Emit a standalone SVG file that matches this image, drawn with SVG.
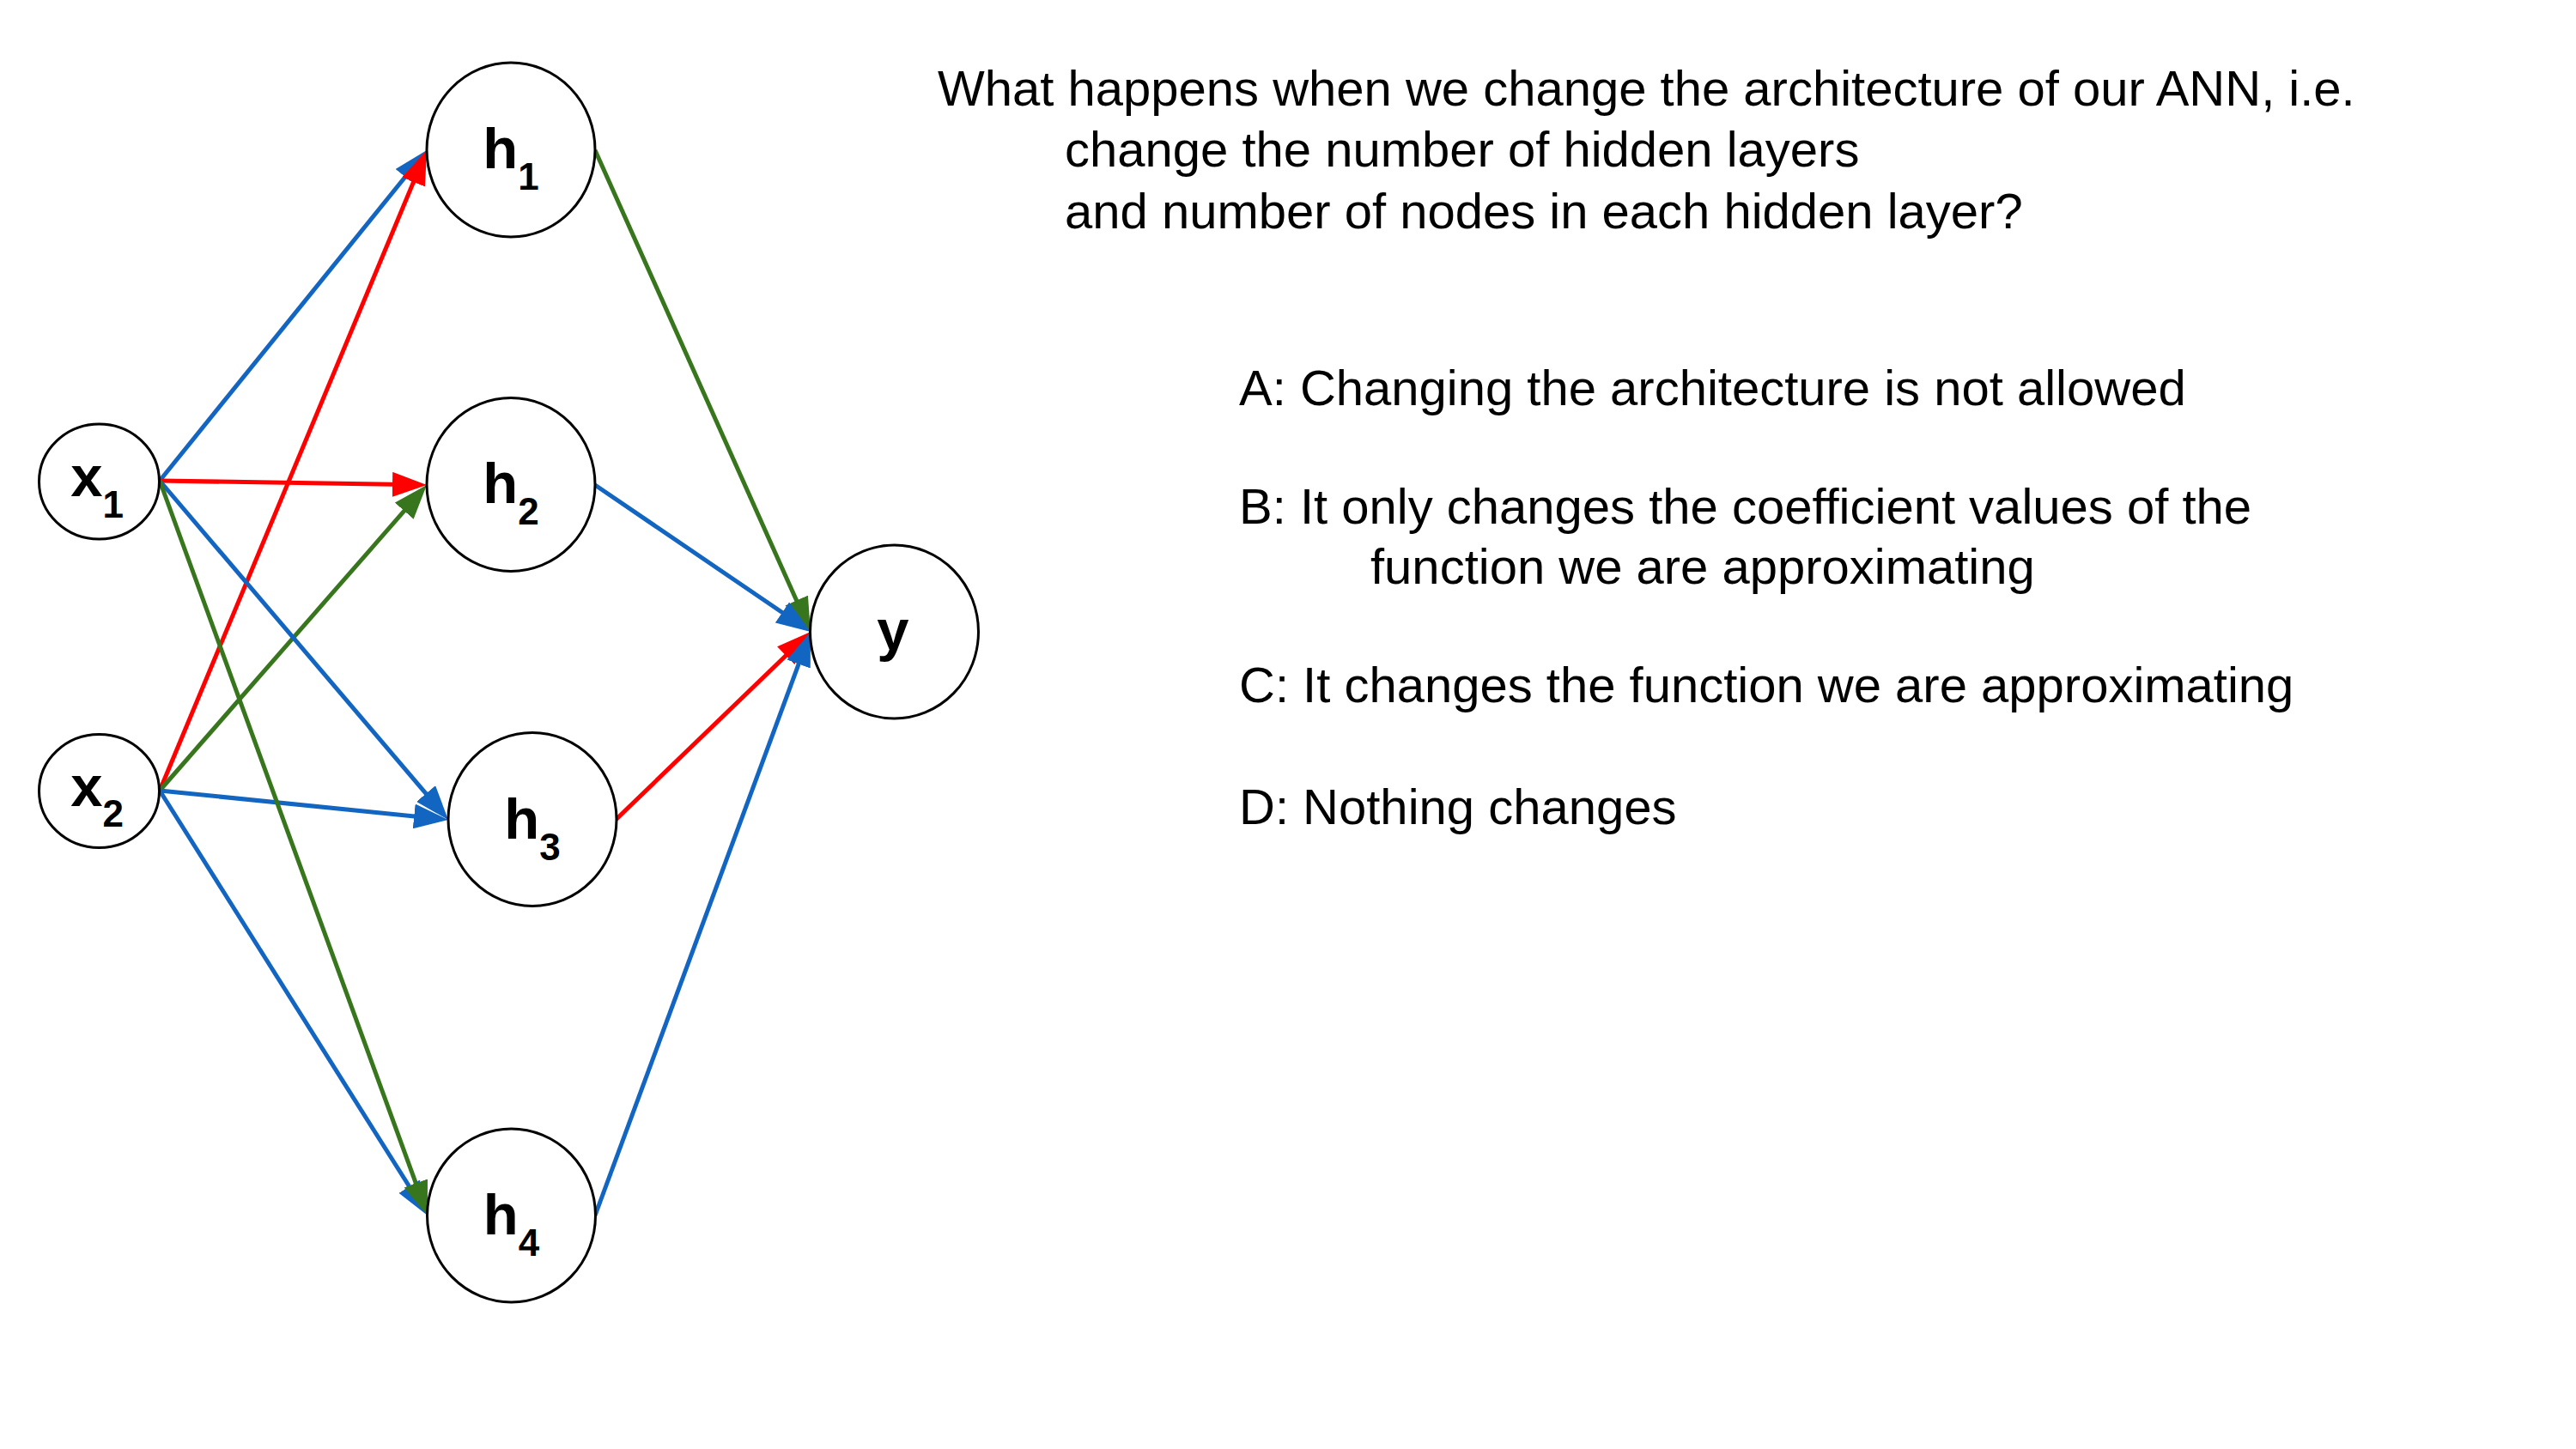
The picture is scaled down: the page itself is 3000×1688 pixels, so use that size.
<svg xmlns="http://www.w3.org/2000/svg" width="3000" height="1688" viewBox="0 0 3000 1688">
  <defs>
    <style>
      .node ellipse { fill: #ffffff; stroke: #000000; stroke-width: 3; }
      .lbl { font-family: "Liberation Sans", Arial, sans-serif; font-weight: bold; font-size: 67px; fill: #000000; }
      .sub { font-size: 44px; }
      .edge { fill: none; stroke-width: 5; }
      .blue { stroke: #1265c1; }
      .red { stroke: #ff0000; }
      .green { stroke: #38761d; }
      .txt { font-family: "Liberation Sans", Arial, sans-serif; font-size: 58px; fill: #000000; }
    </style>
    <marker id="ah-blue" markerUnits="userSpaceOnUse" markerWidth="40" markerHeight="29" refX="32" refY="14.5" orient="auto">
      <path d="M0,0 L40,14.5 L0,29 Z" fill="#1265c1"/>
    </marker>
    <marker id="ah-red" markerUnits="userSpaceOnUse" markerWidth="40" markerHeight="29" refX="32" refY="14.5" orient="auto">
      <path d="M0,0 L40,14.5 L0,29 Z" fill="#ff0000"/>
    </marker>
    <marker id="ah-green" markerUnits="userSpaceOnUse" markerWidth="40" markerHeight="29" refX="32" refY="14.5" orient="auto">
      <path d="M0,0 L40,14.5 L0,29 Z" fill="#38761d"/>
    </marker>
  </defs>

  <rect width="3000" height="1688" fill="#ffffff"/>

  <!-- weighted connections between layers -->
  <g id="connectors">
    <line id="e-x1-h1" class="edge blue" x1="186" y1="560" x2="491.97" y2="181.22" marker-end="url(#ah-blue)"/>
    <line id="e-x2-h1" class="edge red" x1="186" y1="921" x2="493.92" y2="182.38" marker-end="url(#ah-red)"/>
    <line id="e-x1-h2" class="edge red" x1="186" y1="560" x2="489.0" y2="564.87" marker-end="url(#ah-red)"/>
    <line id="e-x2-h2" class="edge green" x1="186" y1="921" x2="491.74" y2="571.02" marker-end="url(#ah-green)"/>
    <line id="e-x1-h3" class="edge blue" x1="186" y1="560" x2="516.82" y2="948.91" marker-end="url(#ah-blue)"/>
    <line id="e-x2-h3" class="edge blue" x1="186" y1="921" x2="514.04" y2="954.19" marker-end="url(#ah-blue)"/>
    <line id="e-x2-h4" class="edge blue" x1="186" y1="921" x2="493.73" y2="1409.23" marker-end="url(#ah-blue)"/>
    <line id="e-x1-h4" class="edge green" x1="186" y1="560" x2="495.26" y2="1408.48" marker-end="url(#ah-green)"/>
    <line id="e-h1-y" class="edge green" x1="693" y1="175" x2="940.73" y2="728.7" marker-end="url(#ah-green)"/>
    <line id="e-h2-y" class="edge blue" x1="693" y1="565" x2="937.39" y2="731.5" marker-end="url(#ah-blue)"/>
    <line id="e-h3-y" class="edge red" x1="717" y1="955" x2="938.24" y2="741.55" marker-end="url(#ah-red)"/>
    <line id="e-h4-y" class="edge blue" x1="693" y1="1416" x2="941.23" y2="743.51" marker-end="url(#ah-blue)"/>
  </g>

  <!-- input layer -->
  <g id="x1" class="node">
    <ellipse cx="115.5" cy="561" rx="70" ry="67"/>
    <text class="lbl" x="113" y="578" text-anchor="middle">x<tspan class="sub" dy="25">1</tspan></text>
  </g>
  <g id="x2" class="node">
    <ellipse cx="115.5" cy="921.5" rx="70" ry="66"/>
    <text class="lbl" x="113" y="938.5" text-anchor="middle">x<tspan class="sub" dy="24">2</tspan></text>
  </g>

  <!-- hidden layer -->
  <g id="h1" class="node">
    <ellipse cx="595" cy="174.5" rx="98" ry="101.5"/>
    <text class="lbl" x="595" y="196" text-anchor="middle">h<tspan class="sub" dy="25">1</tspan></text>
  </g>
  <g id="h2" class="node">
    <ellipse cx="595" cy="564.5" rx="98" ry="101"/>
    <text class="lbl" x="595" y="586" text-anchor="middle">h<tspan class="sub" dy="25">2</tspan></text>
  </g>
  <g id="h3" class="node">
    <ellipse cx="620" cy="954.5" rx="98" ry="101"/>
    <text class="lbl" x="620" y="977" text-anchor="middle">h<tspan class="sub" dy="25">3</tspan></text>
  </g>
  <g id="h4" class="node">
    <ellipse cx="595.5" cy="1416" rx="98" ry="101"/>
    <text class="lbl" x="595.5" y="1438" text-anchor="middle">h<tspan class="sub" dy="25">4</tspan></text>
  </g>

  <!-- output layer -->
  <g id="y" class="node">
    <ellipse cx="1041.5" cy="736" rx="98" ry="101"/>
    <text class="lbl" x="1040" y="757" text-anchor="middle">y</text>
  </g>

  <!-- question -->
  <g id="question">
    <text class="txt" x="1092" y="123">What happens when we change the architecture of our ANN, i.e.</text>
    <text class="txt" x="1240" y="194">change the number of hidden layers</text>
    <text class="txt" x="1240" y="266">and number of nodes in each hidden layer?</text>
  </g>

  <!-- answer options -->
  <g id="options">
    <text class="txt" x="1443" y="472">A: Changing the architecture is not allowed</text>
    <text class="txt" x="1443" y="610">B: It only changes the coefficient values of the</text>
    <text class="txt" x="1596" y="680">function we are approximating</text>
    <text class="txt" x="1443" y="818">C: It changes the function we are approximating</text>
    <text class="txt" x="1443" y="960">D: Nothing changes</text>
  </g>
</svg>
